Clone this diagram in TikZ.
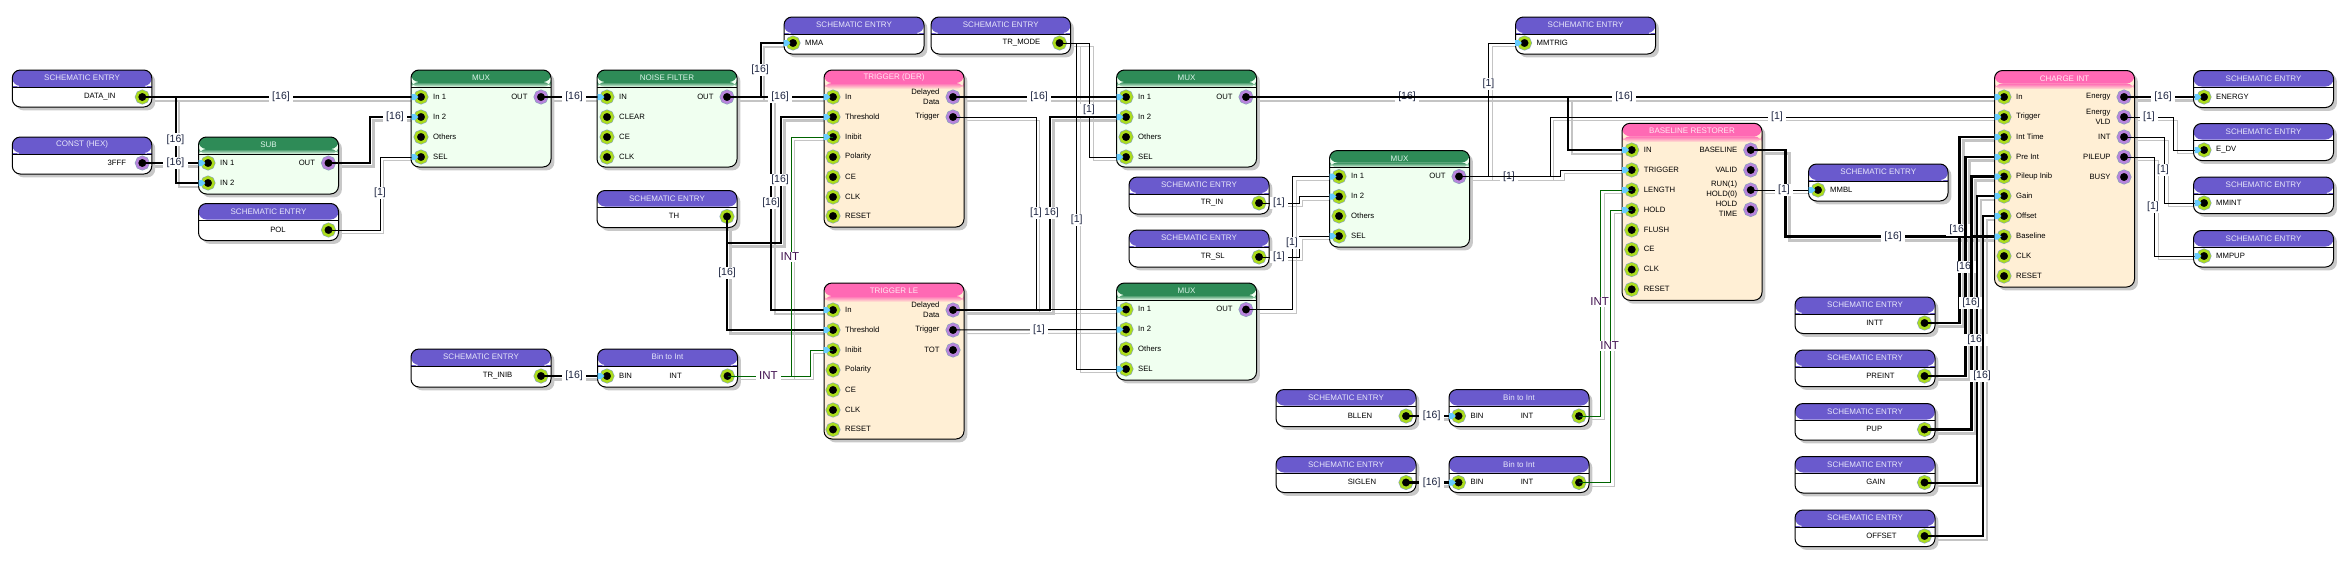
\documentclass[tikz,border=0pt]{standalone}
\usepackage{fontspec}
\setmainfont{Liberation Sans}
\usetikzlibrary{shadows,calc}
\pgfdeclarelayer{bg}
\pgfsetlayers{bg,main}
\definecolor{wshadow}{HTML}{C4C4C4}
\definecolor{bshadow}{HTML}{C8C8C8}
\definecolor{seHead}{HTML}{6A5ACD}
\definecolor{muxHead}{HTML}{2E8B57}
\definecolor{muxBody}{HTML}{F0FFF0}
\definecolor{pinkHead}{HTML}{FF69B4}
\definecolor{pinkBody}{HTML}{FFEFD5}
\definecolor{ringG}{HTML}{ABDC1E}
\definecolor{ringP}{HTML}{B784DC}
\definecolor{ringO}{HTML}{86A4B8}
\definecolor{tipblue}{HTML}{66CCFF}
\definecolor{wgreen}{HTML}{006400}
\definecolor{lblc}{HTML}{1C2440}
\definecolor{intc}{HTML}{40104F}
\definecolor{lavender}{HTML}{E8E8FA}
\definecolor{muxT}{HTML}{DDF5EA}
\definecolor{pinkT}{HTML}{FFE8F2}
\newcounter{lc}
\tikzset{
  w1/.style={draw=black,line width=1pt},
  w16/.style={draw=black,line width=2pt},
  w16h/.style={draw=black,line width=2.8pt},
  wi/.style={draw=wgreen,line width=1pt},
  wlab/.style={fill=white,inner xsep=3.6pt,inner ysep=1.2pt,text=lblc,font=\fontsize{10.5}{12}\selectfont},
  ilab/.style={wlab,text=intc,font=\fontsize{11.5}{12}\selectfont},
  pintxt/.style={inner sep=0pt,font=\fontsize{7.7}{9.6}\selectfont,text=black},
  ttl/.style={inner sep=0pt,font=\fontsize{8}{10}\selectfont},
  pinG/.style={circle,fill=black,draw=ringG,line width=2.6pt,minimum size=11pt,inner sep=0pt,outer sep=0pt,preaction={draw=ringO,line width=3.8pt}},
  pinP/.style={pinG,draw=ringP},
}
% kinds: head colour, body colour, fade start, fade end, line colour, title colour
\newcommand{\kindSE}{\def\kH{seHead}\def\kB{white}\def\kA{16}\def\kZ{17}\def\kL{black}\def\kTc{lavender}}
\newcommand{\kindMX}{\def\kH{muxHead}\def\kB{muxBody}\def\kA{12}\def\kZ{17}\def\kL{black}\def\kTc{muxT}}
\newcommand{\kindPK}{\def\kH{pinkHead}\def\kB{pinkBody}\def\kA{13}\def\kZ{19}\def\kL{pinkBody}\def\kTc{pinkT}}
% block: name, x, y, w, h, kind, title
\newcommand{\blk}[7]{%
  #6%
  \node[anchor=north west,draw=black,line width=1pt,rounded corners=8pt,fill=\kB,inner sep=0pt,outer sep=0pt,
    minimum width=#4pt,minimum height=#5pt,
    drop shadow={shadow xshift=3.4pt,shadow yshift=-3.4pt,fill=bshadow,opacity=1},
    path picture={
      \fill[\kH] (path picture bounding box.north west) rectangle ([yshift=-\kA pt]path picture bounding box.north east);
      \shade[top color=\kH,bottom color=\kB] ([yshift=-\kA pt]path picture bounding box.north west) rectangle ([yshift=-\kZ pt]path picture bounding box.north east);
      \draw[\kL,line width=1pt] ([yshift=-\kZ pt]path picture bounding box.north west) -- ([yshift=-\kZ pt]path picture bounding box.north east);
    }] (#1) at (#2,#3) {};
  \node[ttl,text=\kTc] (#1t) at ({#2+#4/2},{#3+7.8}) {#7};
}
% input pin with text on the right
\newcommand{\ipin}[4]{\node[pinG] (#1) at (#2,#3) {};\node[pintxt,anchor=west] (#1t) at ({#2+12},{#3-0.4}) {#4};}
% output pin with text on the left
\newcommand{\opin}[4]{\node[pinP] (#1) at (#2,#3) {};\node[pintxt,anchor=east,align=right] (#1t) at ({#2-13.3},{#3-0.4}) {#4};}
% source pin: style, name, block x, y, text
\newcommand{\spin}[5]{\node[#1] (#2) at ({#3+130},#4) {};\node[pintxt,anchor=west] (#2t) at ({#3+71.6},{#4-0.4}) {#5};}
\newcommand{\tip}[1]{\fill[tipblue] ([xshift=-9.5pt,yshift=3pt]#1.center) -- ([xshift=-6pt,yshift=3pt]#1.center) -- ([xshift=-2.5pt]#1.center) -- ([xshift=-6pt,yshift=-3pt]#1.center) -- ([xshift=-9.5pt,yshift=-3pt]#1.center) -- cycle;}
\newcommand{\wsh}[2]{\begin{pgfonlayer}{bg}\draw[#1,draw=wshadow,transform canvas={xshift=3.7pt,yshift=-3.7pt}] #2;\end{pgfonlayer}\draw[#1] #2;}
% straight
\newcommand{\ws}[3]{\wsh{#1}{(#2.center) -- (#3.center)}\tip{#3}}
% Z-route by a vertical at x
\newcommand{\wz}[4]{\coordinate (tmpx) at (#3,0);\wsh{#1}{(#2.center) -- (#2.center -| tmpx) -- (#4.center -| tmpx) -- (#4.center)}\tip{#4}}
\newcommand{\lb}[3]{\stepcounter{lc}\node[wlab] (lbl\arabic{lc}) at (#1,#2) {#3};}
\newcommand{\lbi}[3]{\stepcounter{lc}\node[ilab] (lbl\arabic{lc}) at (#1,#2) {#3};}
\begin{document}
\begin{tikzpicture}[x=1pt,y=-1pt]
\useasboundingbox (0,0) rectangle (2341,560);
% ---------- blocks
\blk{dataIn}{12.3}{70}{139.5}{37}{\kindSE}{SCHEMATIC ENTRY}
\spin{pinG}{dataInO}{12.3}{97}{DATA\_IN}
\blk{constH}{12.3}{137}{139.5}{37}{\kindSE}{CONST (HEX)}
\node[pinP] (constO) at (142.3,163) {};\node[pintxt,anchor=west] (constT) at (107.5,162.6) {3FFF};
\blk{sub}{198.5}{137}{140}{57}{\kindMX}{SUB}
\ipin{subA}{208}{163}{IN 1}\ipin{subB}{208}{183}{IN 2}\opin{subO}{328.5}{163}{OUT}
\blk{pol}{198.5}{203.5}{140}{37}{\kindSE}{SCHEMATIC ENTRY}
\spin{pinG}{polO}{198.5}{230}{POL}
\blk{muxA}{411}{70}{140}{97}{\kindMX}{MUX}
\ipin{muxAa}{421}{97}{In 1}\ipin{muxAb}{421}{117}{In 2}\ipin{muxAc}{421}{137}{Others}\ipin{muxAs}{421}{157}{SEL}\opin{muxAo}{541}{97}{OUT}
\blk{noise}{597}{70}{140}{97}{\kindMX}{NOISE FILTER}
\ipin{noiI}{607}{97}{IN}\ipin{noiC}{607}{117}{CLEAR}\ipin{noiE}{607}{137}{CE}\ipin{noiK}{607}{157}{CLK}\opin{noiO}{727}{97}{OUT}
\blk{th}{597}{190.5}{140}{37}{\kindSE}{SCHEMATIC ENTRY}
\spin{pinG}{thO}{597}{216.5}{TH}
\blk{mma}{784}{17}{140}{37}{\kindSE}{SCHEMATIC ENTRY}
\ipin{mmaI}{793}{43}{MMA}
\blk{trmode}{931}{17}{139.5}{37}{\kindSE}{SCHEMATIC ENTRY}
\spin{pinG}{trmO}{929.5}{43}{}\node[pintxt,anchor=west] (trmT) at (1002.5,42.6) {TR\_MODE};
\blk{der}{824}{70}{140}{157}{\kindPK}{TRIGGER (DER)}
\ipin{derI}{833}{97}{In}\ipin{derT}{833}{117}{Threshold}\ipin{derH}{833}{137}{Inibit}\ipin{derP}{833}{157}{Polarity}\ipin{derE}{833}{177}{CE}\ipin{derK}{833}{197}{CLK}\ipin{derR}{833}{216}{RESET}
\opin{derD}{953}{97}{Delayed\\Data}\opin{derG}{953}{117}{Trigger}
\blk{tle}{824}{283}{140}{156}{\kindPK}{TRIGGER LE}
\ipin{tleI}{833}{310}{In}\ipin{tleT}{833}{330}{Threshold}\ipin{tleH}{833}{350}{Inibit}\ipin{tleP}{833}{370}{Polarity}\ipin{tleE}{833}{390}{CE}\ipin{tleK}{833}{410}{CLK}\ipin{tleR}{833}{429.5}{RESET}
\opin{tleD}{953}{310}{Delayed\\Data}\opin{tleG}{953}{330}{Trigger}\opin{tleO}{953}{350}{TOT}
\blk{trinib}{411}{349}{140}{38}{\kindSE}{SCHEMATIC ENTRY}
\spin{pinG}{trinO}{411}{376}{TR\_INIB}
\blk{binA}{597.5}{349}{140}{38}{\kindSE}{Bin to Int}
\ipin{binAi}{607}{376}{BIN}\spin{pinG}{binAo}{597.5}{376}{INT}
\blk{muxB}{1116.5}{70}{140}{97}{\kindMX}{MUX}
\ipin{muxBa}{1126}{97}{In 1}\ipin{muxBb}{1126}{117}{In 2}\ipin{muxBc}{1126}{137}{Others}\ipin{muxBs}{1126}{157}{SEL}\opin{muxBo}{1246}{97}{OUT}
\blk{muxD}{1116.5}{283}{140}{97}{\kindMX}{MUX}
\ipin{muxDa}{1126}{309.5}{In 1}\ipin{muxDb}{1126}{329.5}{In 2}\ipin{muxDc}{1126}{349}{Others}\ipin{muxDs}{1126}{369}{SEL}\opin{muxDo}{1246}{309.5}{OUT}
\blk{trin}{1129}{177}{140}{37}{\kindSE}{SCHEMATIC ENTRY}
\spin{pinG}{trinp}{1129}{203}{TR\_IN}
\blk{trsl}{1129}{230}{140}{37}{\kindSE}{SCHEMATIC ENTRY}
\spin{pinG}{trslp}{1129}{257}{TR\_SL}
\blk{muxC}{1329.5}{150.5}{140}{96.5}{\kindMX}{MUX}
\ipin{muxCa}{1339}{176.5}{In 1}\ipin{muxCb}{1339}{196.5}{In 2}\ipin{muxCc}{1339}{216}{Others}\ipin{muxCs}{1339}{236}{SEL}\opin{muxCo}{1459}{176.5}{OUT}
\blk{mmtrig}{1515.5}{17}{140}{37}{\kindSE}{SCHEMATIC ENTRY}
\ipin{mmtI}{1524.5}{43}{MMTRIG}
\blk{br}{1622}{123.3}{140}{177}{\kindPK}{BASELINE RESTORER}
\ipin{brI}{1631.7}{150}{IN}\ipin{brT}{1631.7}{170}{TRIGGER}\ipin{brL}{1631.7}{190}{LENGTH}\ipin{brH}{1631.7}{210}{HOLD}\ipin{brF}{1631.7}{230}{FLUSH}\ipin{brE}{1631.7}{249.5}{CE}\ipin{brK}{1631.7}{269.5}{CLK}\ipin{brR}{1631.7}{289.3}{RESET}
\opin{brB}{1750.7}{150}{BASELINE}\opin{brV}{1750.7}{170}{VALID}\opin{brU}{1750.7}{190}{RUN(1)\\HOLD(0)}\opin{brM}{1750.7}{209.5}{HOLD\\TIME}
\blk{bllen}{1276}{389.5}{140}{37}{\kindSE}{SCHEMATIC ENTRY}
\spin{pinG}{bllO}{1276}{416}{BLLEN}
\blk{binB}{1449}{389.5}{140}{37}{\kindSE}{Bin to Int}
\ipin{binBi}{1458.5}{416}{BIN}\spin{pinG}{binBo}{1449}{416}{INT}
\blk{siglen}{1276}{456.5}{140}{36}{\kindSE}{SCHEMATIC ENTRY}
\spin{pinG}{sigO}{1276}{482.5}{SIGLEN}
\blk{binC}{1449}{456.5}{140}{36}{\kindSE}{Bin to Int}
\ipin{binCi}{1458.5}{482.5}{BIN}\spin{pinG}{binCo}{1449}{482.5}{INT}
\blk{ci}{1994.5}{70.5}{140}{216.5}{\kindPK}{CHARGE INT}
\ipin{ciI}{2004}{97}{In}\ipin{ciT}{2004}{117}{Trigger}\ipin{ciW}{2004}{137}{Int Time}\ipin{ciP}{2004}{157}{Pre Int}\ipin{ciU}{2004}{176.5}{Pileup Inib}\ipin{ciG}{2004}{196}{Gain}\ipin{ciO}{2004}{216}{Offset}\ipin{ciB}{2004}{236.5}{Baseline}\ipin{ciK}{2004}{256}{CLK}\ipin{ciR}{2004}{276}{RESET}
\opin{ciEn}{2124}{97}{Energy}\opin{ciEv}{2124}{117}{Energy\\VLD}\opin{ciIn}{2124}{137}{INT}\opin{ciPu}{2124}{157}{PILEUP}\opin{ciBu}{2124}{177}{BUSY}
\blk{energy}{2193.5}{70.5}{140}{37}{\kindSE}{SCHEMATIC ENTRY}\ipin{enI}{2204}{97}{ENERGY}
\blk{edv}{2193.5}{123.5}{140}{37}{\kindSE}{SCHEMATIC ENTRY}\ipin{edI}{2204}{150}{E\_DV}
\blk{mmint}{2193.5}{177}{140}{36.5}{\kindSE}{SCHEMATIC ENTRY}\ipin{miI}{2204}{203}{MMINT}
\blk{mmpup}{2193.5}{230.5}{140}{36.5}{\kindSE}{SCHEMATIC ENTRY}\ipin{mpI}{2204}{256}{MMPUP}
\blk{mmbl}{1808.5}{164}{139.5}{37}{\kindSE}{SCHEMATIC ENTRY}\ipin{mbI}{1818}{190}{MMBL}
\blk{intt}{1795}{297}{140}{36.5}{\kindSE}{SCHEMATIC ENTRY}\spin{pinG}{intO}{1794.5}{323}{INTT}
\blk{preint}{1795}{350}{140}{36.5}{\kindSE}{SCHEMATIC ENTRY}\spin{pinG}{preO}{1794.5}{376}{PREINT}
\blk{pup}{1795}{403.5}{140}{36.5}{\kindSE}{SCHEMATIC ENTRY}\spin{pinG}{pupO}{1794.5}{429.5}{PUP}
\blk{gain}{1795}{456.5}{140}{36.5}{\kindSE}{SCHEMATIC ENTRY}\spin{pinG}{gaiO}{1794.5}{482.5}{GAIN}
\blk{offs}{1795}{510}{140}{36.5}{\kindSE}{SCHEMATIC ENTRY}\spin{pinG}{offO}{1794.5}{536}{OFFSET}
% ---------- wires
\ws{w16}{dataInO}{muxAa}\lb{281}{97}{[16]}
\wz{w16}{dataInO}{175.5}{subB}\lb{175.5}{139.5}{[16]}
\ws{w16h}{constO}{subA}\lb{175.5}{163}{[16]}
\wz{w16h}{subO}{370}{muxAb}\lb{395}{117}{[16]}
\wz{w1}{polO}{380}{muxAs}\lb{380}{193}{[1]}
\ws{w16}{muxAo}{noiI}\lb{574}{97}{[16]}
\wz{w16}{noiO}{760.5}{mmaI}\lb{760}{70}{[16]}
\ws{w16}{noiO}{derI}
\wz{w16}{noiO}{771}{tleI}\lb{771}{203}{[16]}
\lb{780}{97}{[16]}
% TH
\coordinate (thk) at (727,243);\coordinate (thx) at (781,243);
\wsh{w16h}{(thO.center) -- (thk) -- (thx) -- (thx |- derT.center) -- (derT.center)}\tip{derT}
\lb{780}{180}{[16]}
\wz{w16h}{thO}{727}{tleT}\lb{727}{273}{[16]}
% INT trigger inhibit
\wz{wi}{binAo}{791}{derH}\lbi{790}{257}{INT}
\wz{wi}{binAo}{810}{tleH}\lbi{768.5}{376}{INT}
\ws{w16h}{trinO}{binAi}\lb{574}{376}{[16]}
% MUX B/D
\ws{w16}{derD}{muxBa}\lb{1039}{97}{[16]}
\wz{w16h}{tleD}{1050}{muxBb}\lb{1050}{213}{[16]}
\wz{w1}{derG}{1036}{muxDa}\lb{1036}{213}{[1]}
\ws{w1}{tleG}{muxDb}\lb{1039}{330}{[1]}
\wz{w1}{trmO}{1089.5}{muxBs}\lb{1089}{110}{[1]}
\wz{w1}{trmO}{1076.7}{muxDs}\lb{1076.7}{220}{[1]}
% MUX C
\wz{w1}{trinp}{1299}{muxCb}\lb{1279}{203}{[1]}
\wz{w1}{trslp}{1299}{muxCs}\lb{1279}{257}{[1]}
\wz{w1}{muxDo}{1292.8}{muxCa}\lb{1292}{243}{[1]}
% top
\wz{w1}{muxCo}{1488.7}{mmtI}\lb{1488.5}{84}{[1]}
\wz{w1}{muxCo}{1560.7}{brT}\lb{1509}{177}{[1]}
\wz{w1}{muxCo}{1550}{ciT}\lb{1777}{117}{[1]}
\wz{w16}{muxBo}{1568.3}{brI}\lb{1407}{97}{[16]}
\ws{w16}{muxBo}{ciI}\lb{1624}{97}{[16]}
% INT baseline
\wz{wi}{binBo}{1600.7}{brL}\lbi{1599.7}{302}{INT}
\wz{wi}{binCo}{1610.7}{brH}\lbi{1609.7}{345.7}{INT}
\ws{w16h}{bllO}{binBi}\lb{1431.7}{416}{[16]}
\ws{w16h}{sigO}{binCi}\lb{1431.7}{482.5}{[16]}
% baseline and charge int
\wz{w16h}{brB}{1785.7}{ciB}
\ws{w1}{brU}{mbI}\lb{1784}{190}{[1]}
\lb{1893}{236.5}{[16]}
\wz{w16h}{intO}{1959.7}{ciW}\lb{1958}{230}{[16]}
\wz{w16h}{preO}{1965.7}{ciP}\lb{1965}{267}{[16]}
\wz{w16h}{pupO}{1971.5}{ciU}
\wz{w16}{gaiO}{1977}{ciG}\lb{1971}{303}{[16]}
\lb{1976}{340}{[16]}
\wz{w16}{offO}{1983}{ciO}\lb{1982}{376}{[16]}
% outputs
\ws{w16h}{ciEn}{enI}\lb{2163}{97}{[16]}
\wz{w1}{ciEv}{2173.7}{edI}\lb{2149}{117}{[1]}
\wz{w1}{ciIn}{2164.6}{miI}\lb{2163}{170}{[1]}
\wz{w1}{ciPu}{2154.8}{mpI}\lb{2153}{207}{[1]}
\end{tikzpicture}
\end{document}
